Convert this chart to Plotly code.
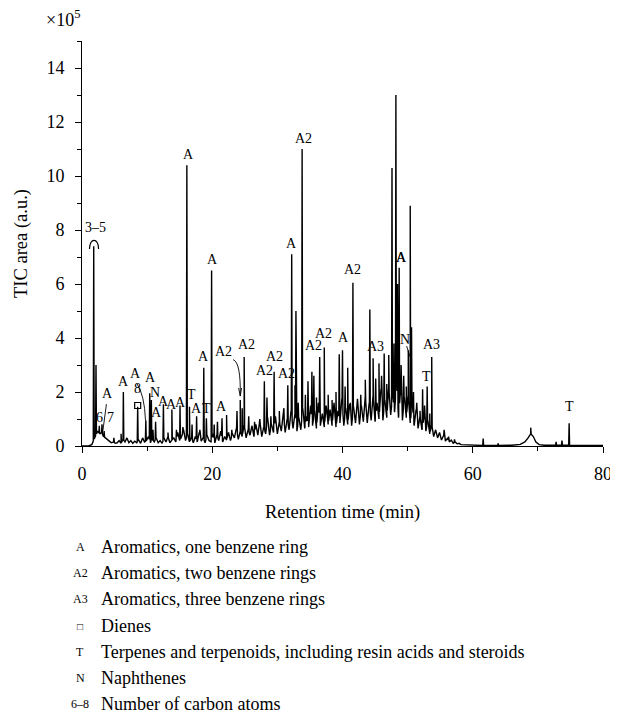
import numpy as np
import plotly.graph_objects as go

# ---------------- data ----------------
# background (unresolved hump + noise), TIC in units of 1e5
pre_t = [0.0, 1.0, 1.5]
pre_y = [0.0, 0.0, 0.05]

grid_t = list(np.round(np.arange(2.4, 58.21, 0.3), 2))  # sampling times
grid_y = [
    0.55, 0.45, 0.5, 0.35, 0.3, 0.22, 0.18, 0.12, 0.15, 0.1,
    0.12, 0.2, 0.1, 0.25, 0.15, 0.3, 0.12, 0.2, 0.1, 0.18,
    0.12, 0.22, 0.1, 0.3, 0.15, 0.2, 0.35, 0.12, 0.25, 0.15,
    0.3, 0.12, 0.2, 0.1, 0.28, 0.15, 0.35, 0.12, 0.22, 0.3,
    0.15, 0.5, 0.2, 0.35, 0.6, 0.2, 0.45, 0.15, 0.3, 0.12,
    0.35, 0.15, 0.5, 0.18, 0.3, 0.12, 0.4, 0.2, 0.15, 0.45,
    0.12, 0.4, 0.2, 0.55, 0.15, 0.35, 0.22, 0.5, 0.2, 0.45,
    0.3, 0.65, 0.25, 0.55, 0.35, 0.8, 0.3, 0.6, 0.4, 0.75,
    0.35, 0.8, 0.4, 0.95, 0.35, 0.7, 0.45, 1.05, 0.4, 0.8,
    0.5, 1.1, 0.45, 0.9, 0.55, 1.2, 0.5, 1.0, 0.6, 1.3,
    0.65, 1.2, 0.55, 1.05, 0.6, 1.4, 0.65, 1.1, 0.7, 1.5,
    0.75, 1.3, 0.65, 1.6, 0.75, 1.2, 0.7, 1.5, 0.8, 1.35,
    0.75, 1.6, 0.7, 1.3, 0.85, 1.75, 0.75, 1.4, 0.8, 1.55,
    0.75, 1.45, 0.85, 1.75, 0.8, 1.5, 0.9, 1.85, 0.85, 1.6,
    0.95, 1.9, 0.9, 1.6, 1.0, 2.1, 0.95, 1.7, 1.05, 2.2,
    1.15, 1.9, 1.25, 2.4, 1.05, 2.0, 0.95, 1.8, 1.05, 1.9,
    0.85, 1.6, 0.75, 1.35, 0.65, 1.1, 0.6, 1.05, 0.55, 0.95,
    0.45, 0.8, 0.35, 0.6, 0.3, 0.5, 0.22, 0.38, 0.18, 0.28,
    0.15, 0.22, 0.1, 0.15, 0.08, 0.1, 0.05,
]
tail_t = [59.0, 60.0, 61.5, 64.0, 66.0, 67.3, 68.0, 68.5, 68.9, 69.3, 69.7, 70.2, 71.0, 74.0, 76.0, 80.0]
tail_y = [0.04, 0.03, 0.02, 0.02, 0.03, 0.06, 0.15, 0.3, 0.45, 0.35, 0.15, 0.05, 0.03, 0.03, 0.02, 0.02]

# resolved peaks: retention time (min) and apex TIC (1e5)
peak_t = [1.8, 2.15, 2.66, 3.07, 3.4, 4.9, 6.0, 6.35, 8.55, 9.3, 9.8, 10.4, 10.65, 10.9,
          11.3, 12.5, 13.2, 13.8, 14.5, 15.05, 15.5, 16.1, 16.5, 16.9, 17.6, 18.1, 18.7,
          19.1, 19.9, 20.3, 20.8, 21.5, 22.2, 23.0, 23.8, 24.3, 24.6, 24.9, 25.6, 26.5,
          27.3, 28.0, 28.4, 29.0, 29.5, 30.3, 31.0, 31.6, 32.2, 32.7, 32.85, 33.2, 33.8,
          34.3, 34.7, 35.3, 35.6, 36.0, 36.5, 37.2, 37.8, 38.4, 39.0, 39.5, 40.0, 40.4,
          40.8, 41.2, 41.6, 42.2, 42.8, 43.5, 44.2, 44.7, 45.1, 45.6, 46.0, 46.4, 46.8,
          47.1, 47.6, 47.9, 48.2, 48.45, 48.7, 49.0, 49.4, 49.8, 50.1, 50.4, 50.6, 50.9,
          51.4, 51.9, 52.3, 52.6, 53.0, 53.4, 53.7, 54.3, 55.0, 55.6, 56.3, 57.2, 61.6,
          63.9, 68.9, 72.8, 73.7, 74.8]
peak_h = [7.4, 3.0, 0.75, 0.8, 0.55, 0.3, 0.45, 2.0, 1.45, 0.3, 0.95, 1.95, 1.7, 0.6,
          0.9, 1.55, 0.5, 1.35, 0.6, 1.5, 0.7, 10.4, 1.45, 0.8, 1.1, 0.6, 2.9,
          1.03, 6.5, 0.8, 0.9, 1.03, 1.15, 0.6, 1.3, 1.7, 1.4, 3.3, 1.1, 0.9,
          1.0, 2.4, 1.8, 1.1, 2.75, 1.3, 1.4, 2.25, 7.1, 2.25, 5.0, 1.6, 11.0,
          1.9, 2.4, 2.75, 2.6, 1.8, 3.3, 3.65, 1.9, 1.7, 2.0, 3.4, 3.55, 2.2,
          2.9, 1.6, 6.05, 1.6, 1.9, 2.45, 5.06, 3.25, 2.5, 3.06, 2.6, 3.43, 2.3,
          3.37, 10.3, 3.8, 13.0, 6.0, 6.6, 3.0, 2.6, 2.2, 3.55, 8.9, 4.4, 2.0,
          1.6, 1.3, 2.1, 1.5, 2.2, 1.2, 3.3, 0.6, 0.5, 0.6, 0.35, 0.25, 0.28,
          0.1, 0.68, 0.15, 0.2, 0.84]

# dienes marker
diene_t = [8.55]
diene_y = [1.5]

# peak labels: (text, time, level)
label_txt = ["3–5", "6", "7", "A", "A", "8", "A", "A", "N", "A", "A", "A", "A", "A", "T",
             "A", "T", "A", "A", "A", "A", "A2", "A2", "A2", "A2", "A2", "A", "A2", "A2",
             "A2", "A", "A2", "A3", "A", "N", "A3", "T", "T"]
label_t = [2.0, 2.65, 4.45, 3.95, 6.35, 8.55, 8.15, 10.45, 11.2, 11.45, 12.55, 13.8, 15.05,
           16.3, 16.75, 17.6, 19.15, 21.45, 18.6, 20.0, 32.2, 21.8, 25.2, 28.0, 29.55, 31.35,
           40.1, 34.0, 35.6, 37.1, 49.0, 41.6, 45.0, 49.0, 49.6, 53.6, 52.9, 74.8]
label_y = [7.75, 0.72, 0.72, 1.6, 2.05, 1.78, 2.35, 2.2, 1.62, 0.9, 1.3, 1.2, 1.25,
           10.45, 1.55, 1.05, 1.05, 1.1, 2.98, 6.55, 7.15, 3.15, 3.4, 2.45, 2.95, 2.35,
           3.65, 11.05, 3.38, 3.8, 6.62, 6.18, 3.35, 6.62, 3.6, 3.4, 2.22, 1.1]

# legend
legend_sym = ["A", "A2", "A3", "□", "T", "N", "6–8"]
legend_txt = ["Aromatics, one benzene ring", "Aromatics, two benzene rings",
              "Aromatics, three benzene rings", "Dienes",
              "Terpenes and terpenoids, including resin acids and steroids",
              "Naphthenes", "Number of carbon atoms"]

# ---------------- build the trace ----------------
bg_t = np.array(pre_t + grid_t + tail_t, dtype=float)
bg_y = np.array(pre_y + grid_y + tail_y, dtype=float)
w = 0.07
xs = list(bg_t)
ys = list(bg_y)
for t, h in zip(peak_t, peak_h):
    for dt, val in ((-w, None), (0.0, h), (w, None)):
        tt = t + dt
        xs.append(tt)
        ys.append(val if val is not None else float(np.interp(tt, bg_t, bg_y)))
order = np.argsort(np.array(xs), kind="stable")
xs = np.array(xs)[order]
ys = np.array(ys)[order]

FONT = "Liberation Serif"
fig = go.Figure()
fig.add_trace(go.Scatter(x=xs, y=ys, mode="lines", line=dict(color="black", width=1.4),
                         hoverinfo="skip", showlegend=False))
fig.add_trace(go.Scatter(x=diene_t, y=diene_y, mode="markers",
                         marker=dict(symbol="square-open", size=6, color="black",
                                     line=dict(width=1.2, color="black")),
                         showlegend=False, hoverinfo="skip"))

annotations = []
for txt, t, yv in zip(label_txt, label_t, label_y):
    annotations.append(dict(x=t, y=yv, xref="x", yref="y", text=txt, showarrow=False,
                            yanchor="bottom", xanchor="center",
                            font=dict(family=FONT, size=14, color="black")))

# ×10^5
annotations.append(dict(x=(44 - 82) / 521.0, y=1.0, xref="paper", yref="paper",
                        text="×10<sup>5</sup>", showarrow=False, xanchor="left",
                        yanchor="bottom", yshift=9,
                        font=dict(family=FONT, size=18, color="black")))

# legend (plot area spans screen px 82..603 horizontally, 41..446 vertically)
row_py = [546.7, 573.3, 599.3, 626.0, 651.7, 678.3, 704.0]
for sym, txt, py in zip(legend_sym, legend_txt, row_py):
    yp = (446 - py) / 405.0
    annotations.append(dict(x=(80 - 82) / 521.0, y=yp, xref="paper", yref="paper", text=sym,
                            showarrow=False, xanchor="center", yanchor="middle",
                            font=dict(family=FONT, size=12 if sym != "□" else 10, color="black")))
    annotations.append(dict(x=(99 - 82) / 521.0, y=yp, xref="paper", yref="paper", text=txt,
                            showarrow=False, xanchor="left", yanchor="middle",
                            font=dict(family=FONT, size=18, color="black")))

shapes = [
    # arc over the 3–5 peak
    dict(type="path", xref="x", yref="y",
         path="M 1.15,7.3 C 1.15,7.72 2.55,7.72 2.55,7.3", line=dict(color="black", width=1.2)),
    # line from A to the C7 peak
    dict(type="line", xref="x", yref="y", x0=3.75, y0=1.55, x1=3.2, y1=0.55,
         line=dict(color="black", width=0.9)),
    # curved line from A to peak near 9.8
    dict(type="path", xref="x", yref="y",
         path="M 8.4,2.32 Q 9.6,1.9 9.75,0.95", line=dict(color="black", width=0.9)),
    # curved arrow from A2 to peak near 24.3
    dict(type="path", xref="x", yref="y",
         path="M 23.2,3.2 Q 24.4,3.1 24.3,1.85", line=dict(color="black", width=0.9)),
    dict(type="path", xref="x", yref="y",
         path="M 24.05,2.15 L 24.3,1.85 L 24.5,2.15", line=dict(color="black", width=0.9)),
    # line from N to peak near 50
    dict(type="line", xref="x", yref="y", x0=49.85, y0=3.7, x1=50.45, y1=3.25,
         line=dict(color="black", width=0.9)),
]

# the page body adds an 8 px offset, so the figure is 610x705 drawn from (8, 8)
fig.update_layout(
    width=610, height=705,
    margin=dict(l=74, r=15, t=33, b=267, autoexpand=False),
    paper_bgcolor="white", plot_bgcolor="white",
    font=dict(family=FONT, size=18, color="black"),
    annotations=annotations, shapes=shapes,
    xaxis=dict(range=[0, 80], tickvals=[0, 20, 40, 60, 80], ticks="outside", ticklen=6,
               tickwidth=1, tickcolor="black", showline=True, linecolor="black", linewidth=1,
               showgrid=False, zeroline=False, automargin=False, ticklabelstandoff=5,
               minor=dict(tickvals=[10, 30, 50, 70], ticks="outside", ticklen=4,
                          tickcolor="black", tickwidth=1),
               tickfont=dict(family=FONT, size=18),
               title=dict(text="Retention time (min)", font=dict(family=FONT, size=18.5),
                          standoff=22)),
    yaxis=dict(range=[0, 15], tickvals=[0, 2, 4, 6, 8, 10, 12, 14], ticks="outside", ticklen=6,
               tickwidth=1, tickcolor="black", showline=True, linecolor="black", linewidth=1,
               showgrid=False, zeroline=False, automargin=False, ticklabelstandoff=7,
               minor=dict(tickvals=[1, 3, 5, 7, 9, 11, 13, 15], ticks="outside", ticklen=4,
                          tickcolor="black", tickwidth=1),
               tickfont=dict(family=FONT, size=18),
               title=dict(text="TIC area (a.u.)", font=dict(family=FONT, size=18.5),
                          standoff=13)),
)

fig.write_html("out.html")
